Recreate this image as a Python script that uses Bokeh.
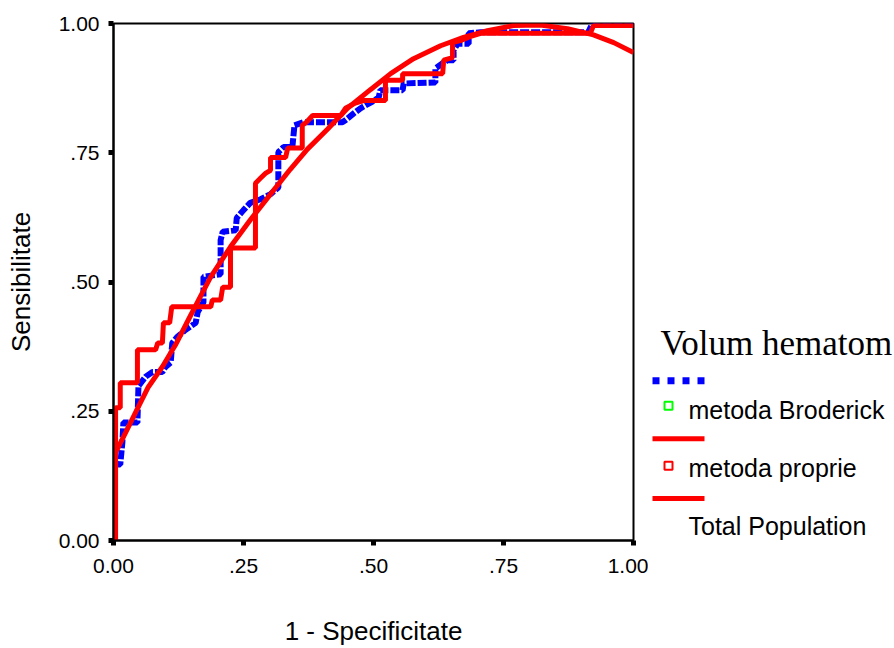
from bokeh.plotting import figure
from bokeh.layouts import row
from bokeh.models import Range1d, FixedTicker
from bokeh.core.properties import value
from bokeh.embed import file_html
from bokeh.resources import INLINE

# ---------------- data ----------------
tick_vals = [0.0, 0.25, 0.5, 0.75, 1.0]
tick_labels = ["0.00", ".25", ".50", ".75", "1.00"]

# metoda Broderick (ROC curve, 1 - specificity / sensitivity)
brod_fpr = [0.000, 0.000, 0.013, 0.017, 0.019, 0.046, 0.048, 0.062, 0.075, 0.094,
            0.100, 0.110, 0.113, 0.123, 0.138, 0.158, 0.162, 0.173, 0.173, 0.206,
            0.206, 0.210, 0.235, 0.237, 0.250, 0.263, 0.283, 0.302, 0.317, 0.317,
            0.327, 0.344, 0.348, 0.365, 0.440, 0.446, 0.462, 0.475, 0.498, 0.510,
            0.513, 0.556, 0.558, 0.619, 0.619, 0.633, 0.642, 0.654, 0.654, 0.662,
            0.683, 0.683, 0.706, 0.913, 0.921, 1.000]
brod_tpr = [0.000, 0.147, 0.147, 0.189, 0.228, 0.228, 0.299, 0.317, 0.326, 0.326,
            0.336, 0.344, 0.382, 0.394, 0.407, 0.421, 0.442, 0.461, 0.510, 0.515,
            0.581, 0.597, 0.600, 0.624, 0.639, 0.653, 0.660, 0.670, 0.683, 0.751,
            0.761, 0.761, 0.803, 0.809, 0.809, 0.813, 0.826, 0.836, 0.849, 0.857,
            0.871, 0.871, 0.884, 0.886, 0.913, 0.923, 0.929, 0.929, 0.948, 0.961,
            0.961, 0.981, 0.983, 0.983, 1.000, 1.000]

# metoda proprie (ROC curve)
prop_fpr = [0.004, 0.004, 0.013, 0.013, 0.046, 0.046, 0.081, 0.085, 0.094, 0.096,
            0.108, 0.112, 0.187, 0.190, 0.206, 0.210, 0.225, 0.225, 0.273, 0.273,
            0.283, 0.292, 0.302, 0.302, 0.331, 0.335, 0.363, 0.363, 0.371, 0.383,
            0.437, 0.446, 0.465, 0.481, 0.523, 0.523, 0.556, 0.556, 0.633, 0.635,
            0.652, 0.652, 0.667, 0.687, 0.706, 0.917, 0.923, 1.000]
prop_tpr = [0.000, 0.257, 0.257, 0.305, 0.305, 0.369, 0.369, 0.382, 0.382, 0.421,
            0.421, 0.452, 0.452, 0.465, 0.465, 0.490, 0.490, 0.566, 0.566, 0.691,
            0.701, 0.710, 0.716, 0.741, 0.741, 0.759, 0.759, 0.803, 0.809, 0.822,
            0.822, 0.836, 0.846, 0.851, 0.851, 0.890, 0.890, 0.903, 0.903, 0.929,
            0.934, 0.963, 0.967, 0.975, 0.981, 0.981, 0.996, 0.996]

# Total Population (smooth fitted curve)
tot_fpr = [0.004, 0.023, 0.048, 0.067, 0.094, 0.119, 0.144, 0.165, 0.187, 0.225,
           0.263, 0.302, 0.340, 0.373, 0.412, 0.450, 0.494, 0.533, 0.577, 0.629,
           0.673, 0.719, 0.769, 0.821, 0.873, 0.923, 0.962, 1.000]
tot_tpr = [0.170, 0.208, 0.259, 0.297, 0.336, 0.378, 0.427, 0.468, 0.510, 0.568,
           0.620, 0.670, 0.718, 0.757, 0.796, 0.836, 0.872, 0.903, 0.932, 0.957,
           0.973, 0.986, 0.996, 0.997, 0.990, 0.978, 0.963, 0.944]

legend_title = "Volum hematom"
legend_labels = ["metoda Broderick", "metoda proprie", "Total Population"]
x_title = "1 - Specificitate"
y_title = "Sensibilitate"

BLUE = "#0000ff"
RED = "#ff0000"
GREEN = "#00ff00"
FONT = "Liberation Sans"

# ---------------- main plot ----------------
W, H = 648, 648
TOP, BOTTOM = 23, 107
p = figure(width=W, height=H, x_range=Range1d(0, 1), y_range=Range1d(0, 1),
           output_backend="svg", toolbar_location=None,
           min_border_left=113, min_border_right=15, min_border_top=TOP,
           min_border_bottom=BOTTOM)
p.background_fill_color = "white"
p.border_fill_color = "white"
p.outline_line_color = "black"
p.outline_line_width = 2
p.xgrid.visible = False
p.ygrid.visible = False

for ax in (p.xaxis[0], p.yaxis[0]):
    ax.ticker = FixedTicker(ticks=tick_vals)
    ax.major_label_overrides = {v: l for v, l in zip(tick_vals, tick_labels)}
    ax.minor_tick_line_color = None
    ax.major_tick_in = 0
    ax.major_tick_out = 5
    ax.major_tick_line_width = 5
    ax.major_tick_line_color = "black"
    ax.axis_line_width = 2
    ax.axis_line_color = "black"
    ax.major_label_text_font = FONT
    ax.major_label_text_font_size = "21px"
    ax.major_label_text_color = "black"
    ax.axis_label_text_font = FONT
    ax.axis_label_text_font_size = "26px"
    ax.axis_label_text_font_style = "normal"
    ax.axis_label_text_color = "black"

p.xaxis.axis_label = x_title
p.yaxis.axis_label = y_title
p.xaxis.major_label_standoff = 13
p.yaxis.major_label_standoff = 9
p.xaxis.axis_label_standoff = 40
p.yaxis.axis_label_standoff = 20

p.line(brod_fpr, brod_tpr, line_color=BLUE, line_width=6, line_dash="9 2")
p.line(prop_fpr, prop_tpr, line_color=RED, line_width=5)
p.line(tot_fpr, tot_tpr, line_color=RED, line_width=5)

# ---------------- legend panel (frame aligned with the main plot) ----------------
LW = 246
lg = figure(width=LW, height=H, x_range=Range1d(0, LW),
            y_range=Range1d(H - BOTTOM, TOP),
            output_backend="svg", toolbar_location=None,
            x_axis_location=None, y_axis_location=None,
            min_border_left=0, min_border_right=0, min_border_top=TOP,
            min_border_bottom=BOTTOM)
lg.outline_line_color = None
lg.xgrid.visible = False
lg.ygrid.visible = False
lg.background_fill_color = "white"
lg.border_fill_color = "white"

lg.text(x=[12], y=[344], text=[legend_title], text_font=value("Liberation Serif"),
        text_font_size="35px", text_color="black", text_baseline="alphabetic")
# legend symbols
lg.line([4, 57], [381, 381], line_color=BLUE, line_width=7, line_dash="7 8")
lg.scatter([20], [406], marker="square", size=8, fill_color=None,
           line_color=GREEN, line_width=2)
lg.line([4, 56], [439, 439], line_color=RED, line_width=5)
lg.scatter([20], [466], marker="square", size=8, fill_color=None,
           line_color=RED, line_width=2)
lg.line([4, 56], [499, 499], line_color=RED, line_width=5)
lg.text(x=[40, 40, 40], y=[410, 468, 526], text=legend_labels,
        text_font=value(FONT), text_font_size="25px", text_color="black",
        text_baseline="alphabetic")

layout = row(p, lg)
open("out.html", "w").write(file_html(layout, INLINE))
